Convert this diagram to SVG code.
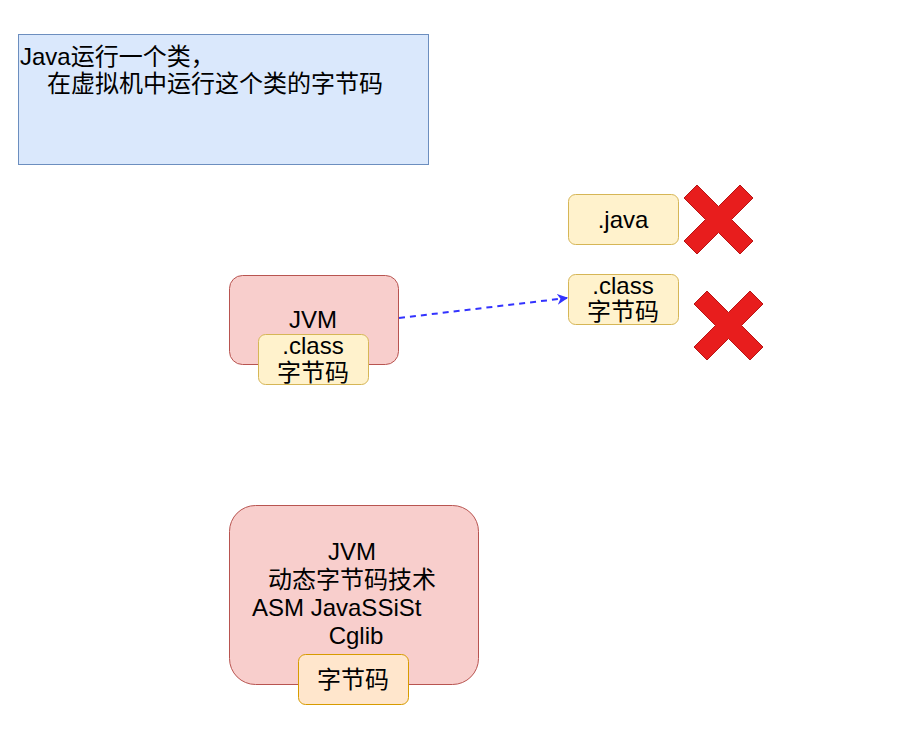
<svg xmlns="http://www.w3.org/2000/svg" width="920" height="742" viewBox="0 0 920 742">
  <style>
    text { font-family: "Liberation Sans", "Noto Sans CJK SC", sans-serif; font-size: 24px; fill: #000; }
    .mid { text-anchor: middle; }
    .note { fill: #dae8fc; stroke: #6c8ebf; stroke-width: 1; }
    .jvm { fill: #f8cecc; stroke: #b85450; stroke-width: 1; }
    .file { fill: #fff2cc; stroke: #d6b656; stroke-width: 1; }
    .code { fill: #ffe6cc; stroke: #d79b00; stroke-width: 1; }
    .cross { fill: #e81d1d; stroke: #b81414; stroke-width: 1; }
    .link { fill: none; stroke: #3333ff; stroke-width: 2; stroke-dasharray: 6 5; }
  </style>
  <defs>
    <marker id="arrow" viewBox="0 0 10 10" refX="9" refY="5" markerWidth="11" markerHeight="11" orient="auto" markerUnits="userSpaceOnUse">
      <path d="M0,0 L10,5 L0,10 L3,5 Z" fill="#3333ff"/>
    </marker>
    <!-- cross mark, 69 x 69 -->
    <polygon id="x-mark" points="0,13 13,0 34.5,21.5 56,0 69,13 47.5,34.5 69,56 56,69 34.5,47.5 13,69 0,56 21.5,34.5"/>
  </defs>

  <g id="note">
    <rect class="note" x="18.5" y="34.5" width="410" height="130"/>
    <text x="20" y="65">Java运行一个类，</text>
    <text x="47" y="92">在虚拟机中运行这个类的字节码</text>
  </g>

  <g id="jvm-load">
    <rect class="jvm" x="229.5" y="275.5" width="169" height="89" rx="13"/>
    <text class="mid" x="313" y="328">JVM</text>
  </g>

  <g id="class-inner">
    <rect class="file" x="258.5" y="334.5" width="110" height="50" rx="7"/>
    <text class="mid" x="313" y="354">.class</text>
    <text class="mid" x="313" y="381">字节码</text>
  </g>

  <g id="java-file">
    <rect class="file" x="568.5" y="194.5" width="110" height="50" rx="7"/>
    <text class="mid" x="623" y="228">.java</text>
  </g>

  <g id="class-file">
    <rect class="file" x="568.5" y="274.5" width="110" height="50" rx="7"/>
    <text class="mid" x="623" y="294">.class</text>
    <text class="mid" x="623" y="320">字节码</text>
  </g>

  <g id="cross-java">
    <use href="#x-mark" class="cross" x="684" y="185"/>
  </g>

  <g id="cross-class">
    <use href="#x-mark" class="cross" x="694" y="291"/>
  </g>

  <g id="jvm-dynamic">
    <rect class="jvm" x="229.5" y="505.5" width="249" height="179" rx="26"/>
    <text class="mid" x="352" y="560">JVM</text>
    <text class="mid" x="352" y="588">动态字节码技术</text>
    <text x="252" y="616">ASM JavaSSiSt</text>
    <text class="mid" x="356" y="644">Cglib</text>
  </g>

  <g id="bytecode">
    <rect class="code" x="298.5" y="654.5" width="110" height="50" rx="7"/>
    <text class="mid" x="353" y="688">字节码</text>
  </g>

  <g id="connectors">
    <path class="link" d="M399,318 L567,298" marker-end="url(#arrow)"/>
  </g>
</svg>
